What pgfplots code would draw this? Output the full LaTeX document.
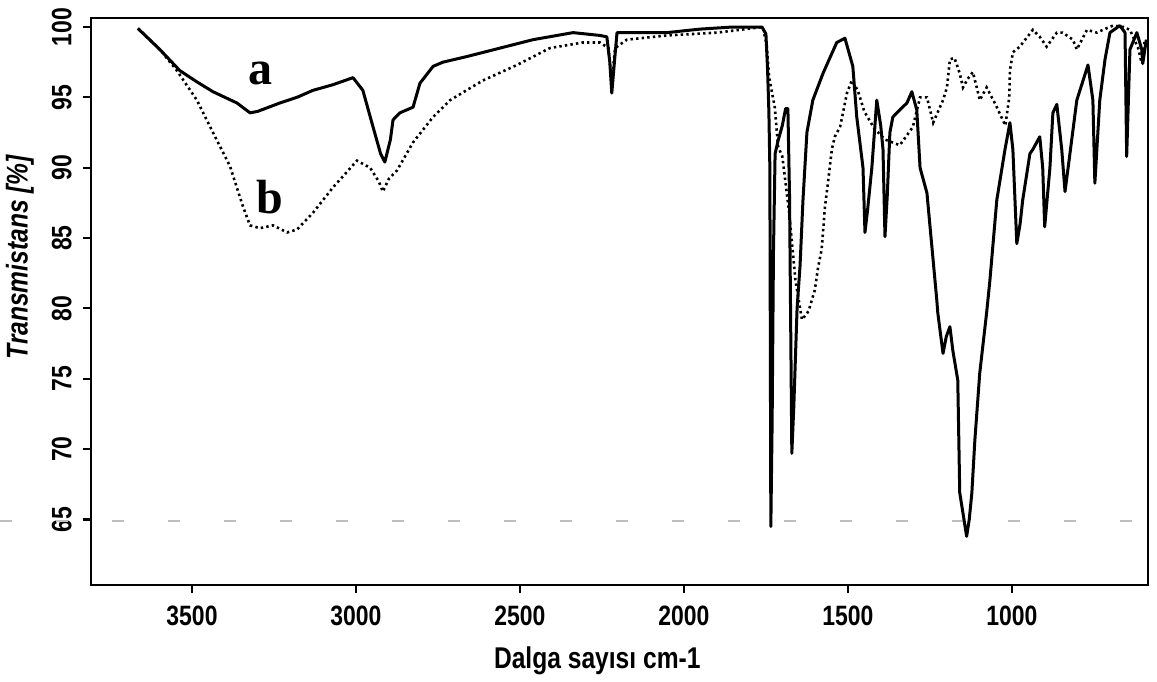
\documentclass[border=0pt]{standalone}
\usepackage{fontspec}
\setmainfont{Liberation Sans}
\newfontfamily\nsans[FakeStretch=0.82]{Liberation Sans}
\newfontfamily\serifb{Liberation Serif}
\usepackage{pgfplots}
\pgfplotsset{compat=1.18}

\begin{document}
\begin{tikzpicture}
\begin{axis}[
  width=528.5pt, height=283.5pt, scale only axis,
  xmin=585, xmax=3808, ymin=60.34, ymax=100.64,
  x dir=reverse,
  clip=false,
  xtick={1000,1500,2000,2500,3000,3500},
  ytick={65,70,75,80,85,90,95,100},
  xtick pos=bottom, ytick pos=left,
  tick align=outside,
  major tick length=4pt,
  tick style={line width=1.1pt, black},
  axis line style={line width=1.4pt, black},
  /pgf/number format/1000 sep={},
  /pgf/number format/assume math mode=true,
  tick label style={font=\nsans\bfseries\fontsize{14}{15}\selectfont},
  yticklabel style={rotate=90, anchor=south, inner sep=0pt},
  yticklabel shift=5.5pt,
  xticklabel style={inner sep=0pt},
  xticklabel shift=6.5pt,
  xlabel={Dalga sayısı cm-1},
  ylabel={Transmistans [\%]},
  xlabel style={at={(axis description cs:0.479,-0.134)}, anchor=center,
    font=\nsans\bfseries\fontsize{15}{16}\selectfont},
  ylabel style={at={(axis description cs:-0.0672,0.578)}, anchor=center, rotate=0,
    font=\nsans\bfseries\itshape\fontsize{15}{16}\selectfont},
]
% faint scan artefact line
\draw[gray!50, line width=0.7pt, dash pattern=on 6pt off 22pt]
  (axis description cs:-0.0861,0.1129) -- (axis description cs:1.0085,0.1129);

% curve a (solid)
\addplot[black, line width=1.5pt, line join=round] coordinates {
(3665,99.9) (3598,98.4) (3537,96.9) (3485,96.1) (3436,95.4) (3363,94.6)
(3323,93.9) (3300,94.0) (3232,94.6) (3180,95.0) (3131,95.5) (3070,95.9)
(3009,96.4) (2979,95.5) (2948,92.9) (2925,91.0) (2912,90.4) (2895,92.0)
(2887,93.4) (2866,93.9) (2826,94.3) (2805,96.0) (2765,97.2) (2735,97.5)
(2662,97.9) (2561,98.5) (2460,99.1) (2338,99.6) (2256,99.4) (2235,99.3)
(2226,97.5) (2220,95.3) (2212,97.5) (2204,99.6) (2155,99.6) (2104,99.6)
(2052,99.6) (1951,99.85) (1851,100.0) (1762,100.0) (1750,99.5) (1745,97.0)
(1741,94.0) (1738,90) (1735,64.5) (1731,72) (1727,84) (1722,91)
(1712,92) (1700,93) (1690,94.2) (1683,94.2) (1678,88) (1671,69.7)
(1665,73) (1655,80) (1646,83) (1637,87.7) (1625,92.5) (1607,94.8)
(1576,96.7) (1534,98.9) (1509,99.2) (1485,97.2) (1473,93.6) (1454,90.0)
(1448,85.4) (1440,87) (1427,90.0) (1412,94.8) (1400,93) (1393,91.3)
(1387,85.1) (1380,88) (1372,92.5) (1363,93.6) (1342,94.1) (1320,94.6)
(1305,95.4) (1290,94.1) (1280,90.0) (1259,88.2) (1244,84.4) (1229,80.6)
(1226,79.7) (1210,76.8) (1200,78) (1189,78.7) (1180,77) (1165,74.9)
(1159,66.9) (1138,63.8) (1130,65) (1122,66.9) (1113,70.6) (1098,75.4)
(1077,79.7) (1067,82.0) (1046,87.7) (1021,91.3) (1006,93.2) (997,91.3)
(985,84.6) (975,86) (967,87.7) (945,91.0) (936,91.3) (915,92.2)
(906,90.0) (900,85.8) (884,90.0) (875,93.9) (863,94.5) (848,91.3)
(838,88.3) (823,91.0) (802,94.8) (768,97.3) (753,94.8) (747,88.9)
(732,94.8) (716,97.7) (701,99.6) (671,100.1) (655,99.6) (650,90.8)
(640,98.4) (619,99.6) (604,98.4) (601,97.4) (590,99.1)
};

% curve b (dotted)
\addplot[black, line width=1.3pt, dash pattern=on 1.2pt off 1.6pt] coordinates {
(3665,99.9) (3598,98.4) (3546,96.9) (3485,94.8) (3436,92.5) (3384,90.1)
(3344,87.2) (3323,85.9) (3293,85.7) (3253,85.9) (3210,85.4) (3180,85.6)
(3131,86.8) (3070,88.6) (2997,90.5) (2957,90.0) (2930,89.0) (2918,88.3)
(2900,89.2) (2875,89.8) (2826,91.8) (2765,93.6) (2713,94.8) (2613,96.2)
(2509,97.3) (2409,98.5) (2308,98.9) (2256,98.9) (2230,98.5) (2220,96)
(2210,98.5) (2174,99.1) (2052,99.4) (1899,99.6) (1760,100.0) (1748,98.8)
(1740,96.4) (1723,94.3) (1713,91.5) (1700,90.8) (1680,87) (1660,82)
(1640,79.2) (1620,79.8) (1601,81.3) (1591,82.9) (1580,84.2) (1570,87.2)
(1561,88.9) (1549,91.3) (1540,92.2) (1524,92.9) (1515,93.9) (1503,95.3)
(1488,96.2) (1470,95.5) (1450,94) (1420,92.8) (1387,92.0) (1342,91.6)
(1320,92.3) (1302,92.9) (1280,95.0) (1259,95.0) (1240,93.2) (1225,94)
(1210,94.8) (1198,95.7) (1189,97.7) (1175,97.8) (1159,96.7) (1149,95.7)
(1135,96.3) (1119,96.8) (1105,95.5) (1098,94.8) (1077,95.7) (1050,94.5)
(1020,93.0) (1008,95.0) (1006,96.9) (997,98.2) (976,98.6) (936,99.8)
(915,99.3) (894,98.6) (863,99.6) (845,99.6) (814,99.1) (802,98.4)
(771,99.8) (741,99.6) (722,99.8) (692,100.1) (660,100) (640,99.8)
(615,98.5) (605,97.5) (595,99.0)
};

\node[font=\serifb\bfseries\fontsize{24}{24}\selectfont] at (axis cs:3290,96.73) {a};
\node[font=\serifb\bfseries\fontsize{24}{24}\selectfont] at (axis cs:3262,87.9) {b};
\end{axis}
\pgfresetboundingbox
\path (-45.5pt,-48pt) rectangle (533pt,292.5pt);
\end{tikzpicture}
\end{document}
